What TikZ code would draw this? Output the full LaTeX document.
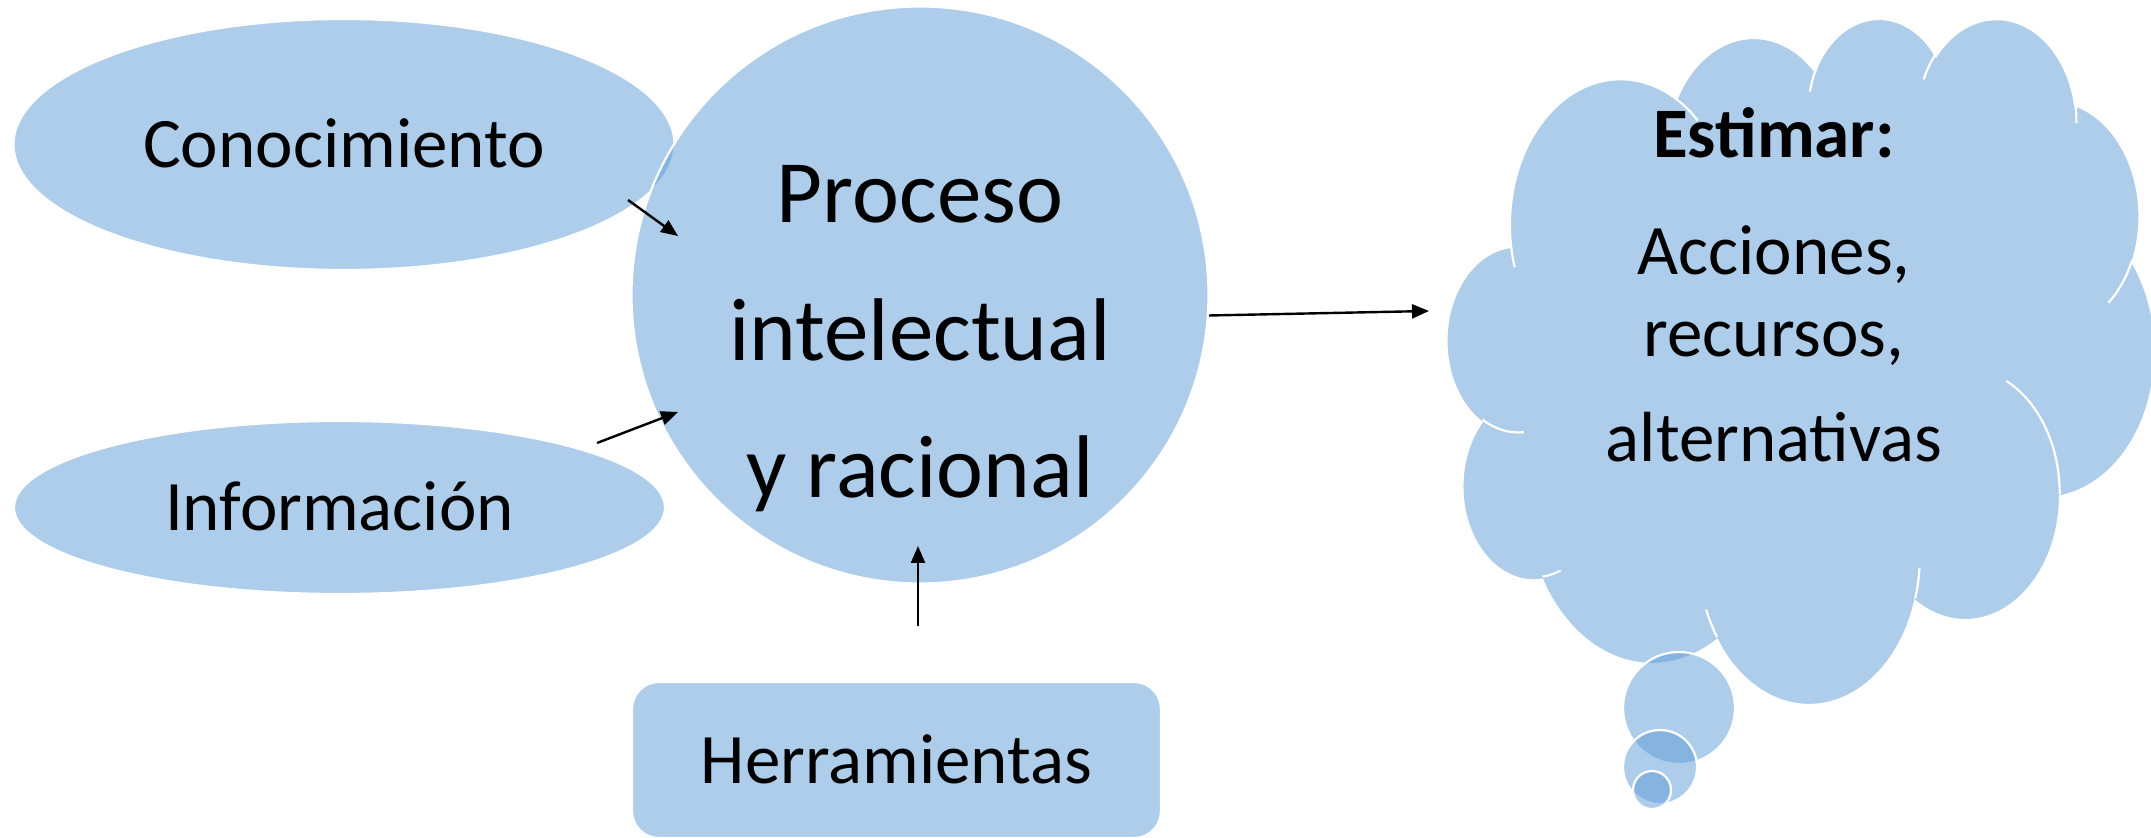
\documentclass[tikz,border=0pt]{standalone}
\usepackage{fontspec}
\setmainfont{Carlito}
\usetikzlibrary{shapes.geometric,arrows.meta}
\definecolor{accent}{RGB}{91,155,213}
\begin{document}
\begin{tikzpicture}[x=0.5pt,y=-0.5pt,
  blob/.style={fill=accent, fill opacity=0.5, text opacity=1, draw=white, line width=1.1pt, inner sep=0pt, outer sep=0pt},
  wline/.style={draw=white, line width=1.1pt},
  txt/.style={font=\fontsize{35.5pt}{39pt}\selectfont, text=black},
  oneline/.style={text height=23pt, text depth=0pt},
  arr/.style={draw=black, line width=1.2pt, -{Triangle[length=8.5pt,width=7pt]}}]
\useasboundingbox (0,0) rectangle (2151,838);

% left ellipses
\node[blob, ellipse, minimum width=330.5pt, minimum height=125.5pt, txt, oneline] (cono) at (344,144.5) {Conocimiento};
\node[blob, ellipse, minimum width=325.5pt, minimum height=86.5pt, txt, oneline] (info) at (339.5,507.5) {Información};

% central circle
\node[blob, circle, minimum size=288.5pt] (proc) at (920,295) {};
\node[font=\fontsize{44.5pt}{68.75pt}\selectfont, align=center, inner sep=0pt] (proctxt) at (920,339) {Proceso\\intelectual\\y racional};

% tools box
\node[blob, rectangle, rounded corners=13.5pt, minimum width=264.5pt, minimum height=78pt, txt, oneline] (herr) at (896.5,760) {Herramientas};

% cloud callout
\begin{scope}[shift={(1447,16.7)}, xscale=16.39, yscale=15.872]
\path[blob] (3.900,14.370)
  arc[x radius=6.753, y radius=9.190, start angle=172.25, delta angle=128.11]
  arc[x radius=5.333, y radius=7.267, start angle=-152.02, delta angle=106.60]
  arc[x radius=4.365, y radius=5.945, start angle=-153.48, delta angle=116.15]
  arc[x radius=4.857, y radius=6.595, start angle=-139.69, delta angle=129.48]
  arc[x radius=5.333, y radius=7.273, start angle=-74.77, delta angle=97.98]
  arc[x radius=6.775, y radius=9.220, start angle=-37.54, delta angle=119.40]
  arc[x radius=5.785, y radius=7.867, start angle=0.46, delta angle=121.52]
  arc[x radius=6.752, y radius=9.215, start angle=16.84, delta angle=129.40]
  arc[x radius=7.720, y radius=10.543, start angle=58.99, delta angle=91.21]
  arc[x radius=4.360, y radius=5.918, start angle=83.31, delta angle=139.79]
  arc[x radius=4.345, y radius=5.945, start angle=120.36, delta angle=143.75]
  -- cycle;
\end{scope}

% thought bubbles
\node[blob, circle, minimum size=56pt] (bub1) at (1679,708) {};
\node[blob, circle, minimum size=37pt] (bub2) at (1660,767) {};
\node[blob, circle, minimum size=19pt] (bub3) at (1652,790) {};

% inner arcs of the cloud
\begin{scope}[shift={(1447,16.7)}, xscale=16.39, yscale=15.872]
\path[wline]
  (4.693,26.177) arc[x radius=4.345, y radius=5.945, start angle=85.55, delta angle=34.81]
  (6.928,34.899) arc[x radius=4.360, y radius=5.918, start angle=68.23, delta angle=15.08]
  (16.478,39.090) arc[x radius=6.752, y radius=9.215, start angle=146.24, delta angle=12.23]
  (28.827,34.751) arc[x radius=6.752, y radius=9.215, start angle=4.74, delta angle=12.10]
  (34.129,22.954) arc[x radius=5.785, y radius=7.867, start angle=-64.02, delta angle=64.48]
  (41.798,15.354) arc[x radius=5.333, y radius=7.273, start angle=23.21, delta angle=26.41]
  (38.324,5.426) arc[x radius=4.857, y radius=6.595, start angle=-10.21, delta angle=11.03]
  (29.078,3.952) arc[x radius=4.857, y radius=6.595, start angle=-156.28, delta angle=16.59]
  (22.141,4.720) arc[x radius=4.365, y radius=5.945, start angle=-167.73, delta angle=14.25]
  (14.000,5.192) arc[x radius=6.753, y radius=9.190, start angle=-59.64, delta angle=13.91]
  (4.127,15.789) arc[x radius=6.753, y radius=9.190, start angle=163.19, delta angle=9.06];
\end{scope}

\node[font=\fontsize{35.5pt}{41pt}\selectfont, align=center, inner sep=0pt] (esttxt) at (1774,284.5) {\textbf{Estimar:}\\[17.5pt]Acciones,\\recursos,\\[11.5pt]alternativas};

% connectors
\coordinate (a1s) at (628,200);
\coordinate (a1e) at (678,236);
\coordinate (a2s) at (597,443);
\coordinate (a2e) at (678,412);
\coordinate (a3s) at (918,626);
\coordinate (a3e) at (918,546);
\coordinate (a4s) at (1209,315.5);
\coordinate (a4e) at (1429,311);
\draw[arr] (a1s) -- (a1e);
\draw[arr] (a2s) -- (a2e);
\draw[arr] (a3s) -- (a3e);
\draw[arr] (a4s) -- (a4e);
\end{tikzpicture}
\end{document}
